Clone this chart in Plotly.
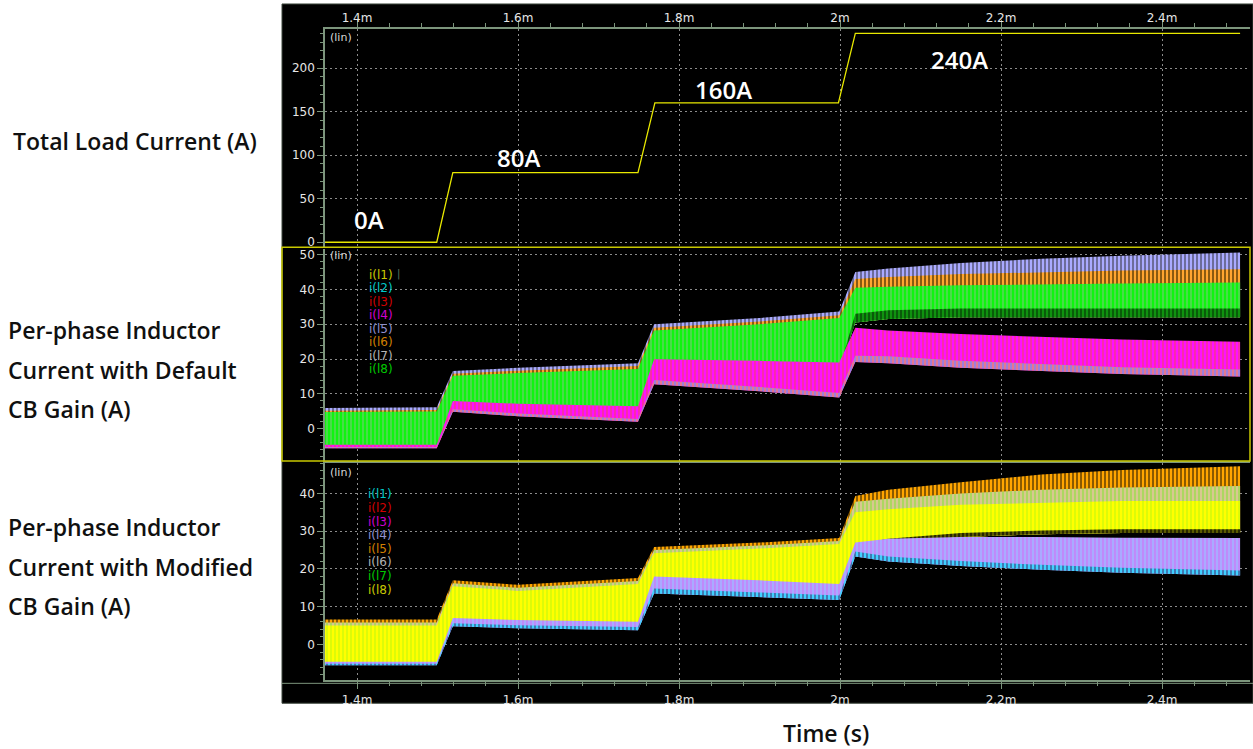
import plotly.graph_objects as go

# ---------------- data ----------------
# time axis in ms
t_load = [1.360, 1.499, 1.519, 1.749, 1.770, 1.998, 2.019, 2.497]
i_load = [0, 0, 80, 80, 160, 160, 240, 240]
load_labels = ["0A", "80A", "160A", "240A"]

# envelope sample times (ms) for the inductor-current bands
t_env = [1.360, 1.499, 1.519, 1.600, 1.749, 1.769, 1.900, 1.999, 2.019, 2.060, 2.150, 2.250, 2.350, 2.497]

# Default CB gain: high-current phase group (layers from top edge down)
def_top      = [6.0, 6.2, 16.6, 17.5, 18.8, 30.0, 31.8, 33.7, 45.0, 46.0, 47.6, 48.8, 49.7, 50.6]
def_orange   = [5.2, 5.4, 15.8, 16.7, 18.0, 29.0, 30.8, 32.6, 43.0, 43.6, 44.4, 45.0, 45.4, 45.8]
def_green    = [4.8, 5.0, 15.2, 16.0, 17.2, 28.2, 30.0, 31.8, 40.5, 40.8, 41.2, 41.5, 41.7, 42.0]
def_dkgreen  = [-5.0, -5.0, 6.5, 6.0, 5.5, 18.0, 17.5, 17.0, 33.0, 34.0, 34.5, 34.5, 34.5, 34.5]
def_glow     = [-5.0, -5.0, 6.5, 6.0, 5.5, 18.0, 17.5, 17.0, 30.5, 31.5, 32.0, 32.0, 32.0, 32.0]
# Default CB gain: low-current phase group
def_mag_hi   = [-4.6, -4.6, 8.0, 7.2, 6.5, 20.0, 19.5, 19.0, 29.0, 28.2, 27.2, 26.3, 25.6, 25.0]
def_salmon   = [-5.2, -5.2, 5.6, 4.4, 2.8, 14.0, 12.0, 10.3, 21.0, 20.8, 19.5, 18.5, 17.7, 17.0]
def_mag_lo   = [-5.6, -5.6, 4.9, 3.6, 2.0, 12.8, 10.8, 9.0, 19.2, 18.8, 17.5, 16.5, 15.7, 15.0]

# Modified CB gain: high-current phase group
mod_top      = [6.6, 6.6, 17.0, 15.8, 17.6, 25.8, 27.0, 28.2, 39.3, 41.0, 43.0, 45.0, 46.2, 47.2]
mod_orange   = [5.8, 5.8, 16.2, 15.0, 16.8, 25.0, 26.2, 27.4, 37.8, 38.6, 40.0, 41.0, 41.6, 42.0]
mod_tan      = [5.0, 5.0, 15.4, 14.2, 16.0, 24.2, 25.4, 26.6, 35.0, 35.8, 37.0, 37.6, 38.0, 38.0]
mod_olive    = [-5.0, -5.0, 5.2, 4.7, 4.2, 14.0, 13.0, 12.2, 26.5, 28.0, 29.5, 30.2, 30.5, 30.5]
mod_ylow     = [-5.0, -5.0, 5.2, 4.7, 4.2, 14.0, 13.0, 12.2, 25.2, 26.8, 28.5, 29.2, 29.5, 29.5]
# Modified CB gain: low-current phase group
mod_lav_hi   = [-4.6, -4.6, 7.0, 6.5, 6.0, 18.0, 17.0, 16.0, 27.0, 28.0, 28.5, 28.5, 28.3, 28.2]
mod_cyan     = [-5.1, -5.1, 5.6, 5.1, 4.6, 14.8, 13.8, 13.0, 24.6, 23.3, 22.1, 21.1, 20.3, 19.6]
mod_lav_lo   = [-5.5, -5.5, 4.8, 4.3, 3.8, 13.5, 12.6, 11.8, 23.3, 22.0, 20.8, 19.8, 19.0, 18.3]

def_names = ["i(l1)", "i(l2)", "i(l3)", "i(l4)", "i(l5)", "i(l6)", "i(l7)", "i(l8)"]
def_colors = ["#c8c800", "#00c8c8", "#d00000", "#d000d0", "#9090d0", "#d08000", "#b4b4b4", "#00c800"]
mod_names = ["i(l1)", "i(l2)", "i(l3)", "i(l4)", "i(l5)", "i(l6)", "i(l7)", "i(l8)"]
mod_colors = ["#00c8c8", "#d00000", "#d000d0", "#9090d0", "#d08000", "#b4b4b4", "#00c800", "#c8c800"]

W, H = 1253, 749
AX = "#7c957c"
GRID = "#8c8c8c"
TICKFONT = dict(family="DejaVu Sans", size=12, color="#e6e6e6")


def band(x, lo, hi, bg, fg, sol, xa, ya):
    return go.Scatter(
        x=list(x) + list(x)[::-1], y=list(hi) + list(lo)[::-1],
        fill="toself", fillcolor=bg, mode="lines", line=dict(width=0, color=bg),
        fillpattern=dict(shape="|", bgcolor=bg, fgcolor=fg, size=4, solidity=sol, fillmode="replace"),
        xaxis=xa, yaxis=ya, hoverinfo="skip", showlegend=False)


fig = go.Figure()

# panel 1: total load current
fig.add_trace(go.Scatter(x=t_load, y=i_load, mode="lines", line=dict(color="#e8e800", width=1.3),
                         xaxis="x", yaxis="y", hoverinfo="skip", showlegend=False))

# panel 2: default CB gain
for hi, bg, fg, sol in [(def_top, "#6c6c9a", "#aaaaff", 0.5), (def_orange, "#8a5a10", "#ffa530", 0.5),
                        (def_green, "#10f410", "#80c880", 0.25), (def_dkgreen, "#0a5a0a", "#10a010", 0.4)]:
    fig.add_trace(band(t_env, def_glow, hi, bg, fg, sol, "x2", "y2"))
for hi, bg, fg, sol in [(def_mag_hi, "#ff10ff", "#f04070", 0.3), (def_salmon, "#e47890", "#8080ff", 0.35)]:
    fig.add_trace(band(t_env, def_mag_lo, hi, bg, fg, sol, "x2", "y2"))

# panel 3: modified CB gain
for hi, bg, fg, sol in [(mod_top, "#8a5a00", "#ffa500", 0.5), (mod_orange, "#d8c890", "#90e040", 0.3),
                        (mod_tan, "#ffff00", "#70f020", 0.12), (mod_olive, "#5a5a00", "#1a1a00", 0.4)]:
    fig.add_trace(band(t_env, mod_ylow, hi, bg, fg, sol, "x3", "y3"))
for hi, bg, fg, sol in [(mod_lav_hi, "#aaaaff", "#f040f0", 0.15), (mod_cyan, "#40d0ff", "#404080", 0.3)]:
    fig.add_trace(band(t_env, mod_lav_lo, hi, bg, fg, sol, "x3", "y3"))

xdom = [325 / W, 1250 / W]
xrange_ = [1.3602, 2.5093]


def xax(**kw):
    d = dict(domain=xdom, range=xrange_, tickmode="linear", tick0=1.4, dtick=0.2, ticksuffix="m",
             showgrid=True, gridcolor=GRID, griddash="2px,3px", gridwidth=1, zeroline=False,
             tickfont=TICKFONT, tickcolor=AX, linecolor=AX, linewidth=1.5)
    d.update(kw)
    return d


def yax(dom, rng, dt, mdt, **kw):
    d = dict(domain=[1 - dom[1] / H, 1 - dom[0] / H], range=rng, tickmode="linear", tick0=0, dtick=dt,
             showgrid=True, gridcolor=GRID, griddash="2px,3px", gridwidth=1, zeroline=False,
             ticks="outside", ticklen=6, tickcolor=AX, tickfont=TICKFONT, showline=True,
             linecolor=AX, linewidth=1.5,
             minor=dict(tick0=0, dtick=mdt, ticks="outside", ticklen=3, tickcolor=AX, showgrid=False))
    d.update(kw)
    return d


minor_x = dict(tick0=1.4, dtick=0.04, ticks="outside", ticklen=4, tickcolor=AX, showgrid=False)

fig.update_layout(
    width=W, height=H, margin=dict(l=0, r=0, t=0, b=0),
    paper_bgcolor="white", plot_bgcolor="black", showlegend=False,
    xaxis=xax(anchor="y", side="top", ticks="outside", ticklen=7, showline=True, minor=minor_x,
              ticklabelstandoff=-7),
    xaxis2=xax(anchor="y2", matches="x", showticklabels=False, ticks=""),
    xaxis3=xax(anchor="y3", matches="x", side="bottom", ticks="outside", ticklen=7, showline=True,
               minor=minor_x),
    yaxis=yax((28, 247), [-5.1, 245.1], 50, 10, anchor="x"),
    yaxis2=yax((249, 462), [-9.1, 51.7], 10, 2, anchor="x2"),
    yaxis3=yax((464, 683), [-9.5, 48.2], 10, 2, anchor="x3"),
)

shapes = [
    dict(type="rect", xref="paper", yref="paper", x0=282 / W, x1=1.0, y0=1 - 706 / H, y1=1 - 3 / H,
         fillcolor="black", line=dict(color="#3c463c", width=1), layer="below"),
    dict(type="rect", xref="paper", yref="paper", x0=282 / W, x1=1250 / W, y0=1 - 462.5 / H,
         y1=1 - 247.5 / H, line=dict(color="#c8c800", width=1.5), layer="above"),
    dict(type="line", xref="paper", yref="paper", x0=282 / W, x1=1.0, y0=1 - 686 / H, y1=1 - 686 / H,
         line=dict(color=AX, width=1), layer="above"),
]
fig.update_layout(shapes=shapes)

ann = []
# load step labels
for txt, (tx, ty) in zip(load_labels, [(1.415, 25.7), (1.601, 97.7), (1.855, 175.4), (2.149, 209.7)]):
    ann.append(dict(x=tx, y=ty, xref="x", yref="y", text=txt, showarrow=False,
                    font=dict(family="Open Sans", size=24, color="white", weight=600),
                    xanchor="center", yanchor="middle"))

# (lin) labels
for py in [37, 256, 474]:
    ann.append(dict(x=328 / W, y=1 - py / H, xref="paper", yref="paper", text="(lin)", showarrow=False,
                    font=dict(family="DejaVu Sans", size=11, color="#d8d8d8"), xanchor="left", yanchor="middle"))

# trace name lists
for i, (nm, col) in enumerate(zip(def_names, def_colors)):
    ann.append(dict(x=367 / W, y=1 - (275 + i * 13.6) / H, xref="paper", yref="paper", text=nm,
                    showarrow=False, font=dict(family="DejaVu Sans", size=12, color=col),
                    xanchor="left", yanchor="middle"))
ann.append(dict(x=395 / W, y=1 - 274 / H, xref="paper", yref="paper", text="|", showarrow=False,
                font=dict(family="DejaVu Sans", size=10, color="#607860"), xanchor="left", yanchor="middle"))
for i, (nm, col) in enumerate(zip(mod_names, mod_colors)):
    ann.append(dict(x=366 / W, y=1 - (496 + i * 13.7) / H, xref="paper", yref="paper", text=nm,
                    showarrow=False, font=dict(family="DejaVu Sans", size=12, color=col),
                    xanchor="left", yanchor="middle"))

# left-side panel titles
LF = dict(family="Open Sans", size=23, color="#101010", weight=600)
left_lines = [
    ("Total Load Current (A)", 11, 141),
    ("Per-phase Inductor", 6, 331), ("Current with Default", 6, 371), ("CB Gain (A)", 6, 410),
    ("Per-phase Inductor", 6, 529), ("Current with Modified", 6, 569), ("CB Gain (A)", 6, 608),
]
for txt, px, py in left_lines:
    ann.append(dict(x=px / W, y=1 - py / H, xref="paper", yref="paper", text=txt, showarrow=False,
                    font=LF, xanchor="left", yanchor="middle"))

ann.append(dict(x=826 / W, y=1 - 736 / H, xref="paper", yref="paper", text="Time (s)", showarrow=False,
                font=LF, xanchor="center", yanchor="middle"))

fig.update_layout(annotations=ann)
fig.write_html("out.html")
